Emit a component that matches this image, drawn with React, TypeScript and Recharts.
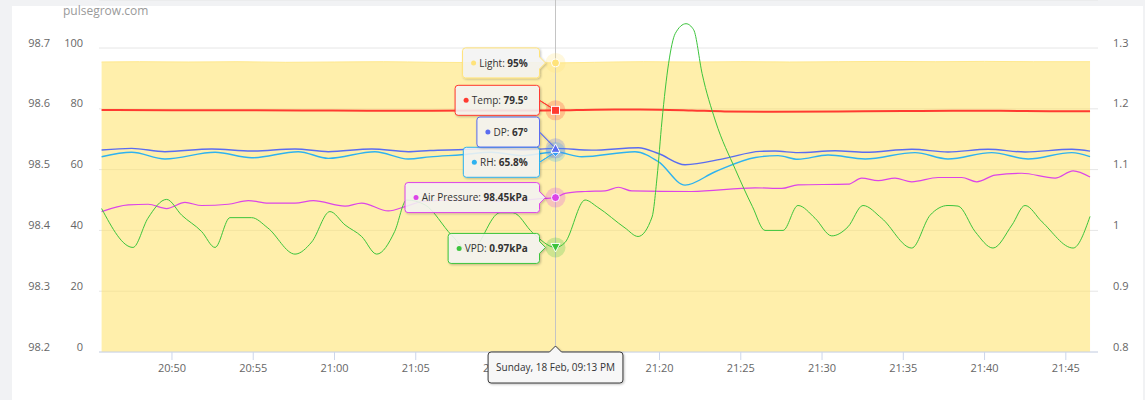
import React from 'react';
import {
  ComposedChart,
  Line,
  Area,
  XAxis,
  YAxis,
  CartesianGrid,
  ReferenceLine,
  ReferenceDot,
} from 'recharts';

type Pt = [number, number]; // [minutes after 20:00, value]

// ---------- axis ticks ----------
const TIME_TICKS = [50, 55, 60, 65, 70, 75, 80, 85, 90, 95, 100, 105];
const PCT_TICKS = [0, 20, 40, 60, 80, 100];
const AP_TICKS = [98.2, 98.3, 98.4, 98.5, 98.6, 98.7];
const VPD_TICKS = [0.8, 0.9, 1, 1.1, 1.2, 1.3];
const HOVER_T = 73.6;
const DATE_PREFIX = 'Sunday, 18 Feb';
const CREDIT = 'pulsegrow.com';

// ---------- series values ----------
const LIGHT: Pt[] = [
  [45.67, 95.4], [48, 95.5], [51, 95.4], [54, 95.5], [57, 95.3], [60, 95.4], [63, 95.5],
  [66, 95.3], [69, 95.2], [71.5, 95.3], [73.6, 95.1], [76, 95.3], [79, 95.5], [82, 95.4],
  [85, 95.5], [88, 95.4], [91, 95.5], [94, 95.6], [97, 95.5], [100, 95.6], [103, 95.5],
  [106.49, 95.5],
];

const TEMP: Pt[] = [
  [45.67, 79.6], [50, 79.55], [55, 79.5], [58, 79.45], [62, 79.4], [66, 79.4], [70, 79.45],
  [73.6, 79.5], [76, 79.7], [78, 79.75], [80, 79.7], [82, 79.45], [84, 79.15], [87, 79.05],
  [91, 79.15], [95, 79.25], [98, 79.35], [101, 79.35], [104, 79.2], [106.49, 79.2],
];

const DP: Pt[] = [
  [45.67, 66.45], [47.52, 67.0], [49.57, 65.9], [52.44, 66.8], [54.9, 66.1], [57.57, 66.8],
  [59.62, 65.9], [62.29, 66.8], [64.54, 65.9], [65.88, 66.3], [68, 66.6], [69.67, 67.0],
  [71.6, 66.5], [73.6, 67.0], [75.83, 66.4], [78.7, 67.2], [79.93, 65.3], [81.57, 61.6],
  [84.03, 63.7], [86.18, 66.0], [87.11, 66.1], [88.52, 65.6], [90.8, 66.2], [92.65, 65.7],
  [95.52, 66.7], [97.75, 65.8], [100.22, 66.7], [102.49, 65.8], [105.37, 66.7], [106.49, 66.1],
];

const RH: Pt[] = [
  [45.67, 64.25], [47.52, 65.7], [49.57, 63.5], [52.65, 65.7], [54.9, 63.9], [57.77, 65.9],
  [59.62, 63.7], [62.49, 65.9], [64.54, 63.5], [65.88, 64.2], [67.8, 64.9], [69.67, 65.7],
  [71.6, 64.6], [73.6, 65.8], [75.21, 64.25], [78.49, 65.9], [79.93, 62.6], [81.57, 54.9],
  [83.42, 59.3], [85.9, 64.0], [87.29, 64.6], [88.52, 63.4], [90.37, 64.8], [92.65, 63.5],
  [95.72, 65.6], [97.75, 63.5], [100.44, 65.6], [102.68, 63.5], [105.37, 65.6], [106.49, 64.25],
];

const AIR_PRESSURE: Pt[] = [
  [45.67, 98.431], [47.31, 98.442], [48.54, 98.443], [49.67, 98.436], [50.8, 98.446],
  [51.83, 98.441], [53.46, 98.443], [54.7, 98.449], [55.93, 98.445], [57.57, 98.445],
  [58.7, 98.449], [60.65, 98.44], [61.67, 98.445], [63.31, 98.432], [64.44, 98.44],
  [65.5, 98.448], [68, 98.45], [70.5, 98.448], [72.5, 98.452], [73.6, 98.454],
  [74.18, 98.461], [75.42, 98.464], [76.65, 98.465], [77.47, 98.471], [78.29, 98.465],
  [81.98, 98.464], [85.88, 98.47], [87.52, 98.469], [88.52, 98.475], [91.6, 98.476],
  [92.44, 98.486], [93.45, 98.482], [94.49, 98.486], [95.52, 98.48], [97.14, 98.487],
  [98.6, 98.487], [99.52, 98.48], [100.65, 98.491], [102.29, 98.494], [104.34, 98.486],
  [105.45, 98.498], [106.49, 98.488],
];

const VPD: Pt[] = [
  [45.67, 1.036], [47.6, 0.972], [48.52, 1.02], [49.67, 1.051], [50.6, 1.025], [51.83, 0.998],
  [52.65, 0.972], [53.57, 1.021], [54.9, 1.021], [55.9, 1.004], [57.57, 0.961], [58.6, 0.981],
  [59.72, 1.031], [60.65, 1.009], [61.67, 0.99], [62.6, 0.961], [63.7, 0.998], [64.44, 1.05],
  [65.57, 1.042], [67.21, 0.992], [68.34, 0.965], [70.18, 1.029], [70.98, 1.029], [72.2, 0.996],
  [73.6, 0.972], [74.18, 0.98], [75.42, 1.05], [76.2, 1.038], [77.88, 1.004], [78.68, 0.99],
  [79.54, 1.022], [79.85, 1.088], [80.15, 1.18], [80.56, 1.275], [80.97, 1.324], [81.63, 1.34],
  [82.1, 1.33], [82.62, 1.258], [83.44, 1.18], [84.67, 1.1], [85.72, 1.039], [86.49, 1.0],
  [87.6, 1.0], [88.52, 1.041], [89.57, 1.02], [90.6, 0.991], [91.6, 1.006], [92.52, 1.041],
  [93.67, 1.02], [95.52, 0.971], [96.65, 1.025], [97.75, 1.041], [98.37, 1.04], [99.42, 0.998],
  [100.52, 0.971], [101.69, 1.009], [102.49, 1.041], [103.54, 1.014], [105.45, 0.971],
  [106.49, 1.023],
];

// ---------- layout / style ----------
const X_DOMAIN: [number, number] = [45.51, 106.98];
const PCT_TOP = 115.8;
const FONT = '"Open Sans", sans-serif';
// axis ids (the library orders same-side axes by id: first = nearest the plot)
const AX_PCT = 'left1';
const AX_AP = 'left2';
const AX_VPD = 'right1';

type MarkerKind = 'circle' | 'square' | 'triangle' | 'triangle-down' | 'diamond';
interface SeriesCfg {
  name: string;
  data: Pt[];
  axis: string;
  color: string;
  fmt: (v: number) => string;
  marker: MarkerKind;
  tipDy: number;
}

const SERIES: Record<string, SeriesCfg> = {
  light: { name: 'Light', data: LIGHT, axis: AX_PCT, color: '#ffe37a', fmt: (v) => `${v.toFixed(0)}%`, marker: 'circle', tipDy: 0 },
  temp: { name: 'Temp', data: TEMP, axis: AX_PCT, color: '#ff3b30', fmt: (v) => `${v.toFixed(1)}°`, marker: 'square', tipDy: -10 },
  rh: { name: 'RH', data: RH, axis: AX_PCT, color: '#2eb2f0', fmt: (v) => `${v.toFixed(1)}%`, marker: 'diamond', tipDy: 10.3 },
  dp: { name: 'DP', data: DP, axis: AX_PCT, color: '#5a6cf0', fmt: (v) => `${v.toFixed(0)}°`, marker: 'triangle', tipDy: -16.3 },
  ap: { name: 'Air Pressure', data: AIR_PRESSURE, axis: AX_AP, color: '#dc44e8', fmt: (v) => `${v.toFixed(2)}kPa`, marker: 'circle', tipDy: 0 },
  vpd: { name: 'VPD', data: VPD, axis: AX_VPD, color: '#3cc43c', fmt: (v) => `${v.toFixed(2)}kPa`, marker: 'triangle-down', tipDy: 1 },
};

const toRows = (pts: Pt[]) => pts.map(([t, v]) => ({ t, v }));
const valueAt = (pts: Pt[], t: number) => {
  const p = pts.find((q) => Math.abs(q[0] - t) < 1e-6);
  return p ? p[1] : pts[0][1];
};

const pad2 = (n: number) => (n < 10 ? `0${n}` : `${n}`);
const fmtTime = (t: number) => `${20 + Math.floor(t / 60)}:${pad2(Math.round(t % 60))}`;
const fmt12 = (t: number) => {
  const h24 = 20 + Math.floor(t / 60);
  const m = Math.floor(t % 60);
  const h12 = h24 % 12 === 0 ? 12 : h24 % 12;
  return `${pad2(h12)}:${pad2(m)} ${h24 >= 12 ? 'PM' : 'AM'}`;
};

let ctx: CanvasRenderingContext2D | null = null;
function textW(s: string, bold = false, size = 10): number {
  if (typeof document !== 'undefined') {
    if (!ctx) ctx = document.createElement('canvas').getContext('2d');
    if (ctx) {
      ctx.font = `${bold ? 'bold ' : ''}${size}px "Open Sans"`;
      return ctx.measureText(s).width;
    }
  }
  return s.length * size * 0.55;
}

function rightCallout(x: number, y: number, w: number, h: number, r: number, ax: number, ay: number) {
  const safe = r + 6;
  let d = `M${x + r},${y} L${x + w - r},${y} Q${x + w},${y} ${x + w},${y + r} `;
  if (ay > y + safe && ay < y + h - safe) {
    d += `L${x + w},${ay - 6} L${x + w + 6},${ay} L${x + w},${ay + 6} `;
  } else {
    d += `L${x + w},${y + h / 2} L${ax},${ay} L${x + w},${y + h / 2} `;
  }
  d += `L${x + w},${y + h - r} Q${x + w},${y + h} ${x + w - r},${y + h} L${x + r},${y + h} Q${x},${y + h} ${x},${y + h - r} L${x},${y + r} Q${x},${y} ${x + r},${y} Z`;
  return d;
}

function topCallout(x: number, y: number, w: number, h: number, r: number, ax: number) {
  return `M${x + r},${y} L${ax - 6},${y} L${ax},${y - 6} L${ax + 6},${y} L${x + w - r},${y} Q${x + w},${y} ${x + w},${y + r} L${x + w},${y + h - r} Q${x + w},${y + h} ${x + w - r},${y + h} L${x + r},${y + h} Q${x},${y + h} ${x},${y + h - r} L${x},${y + r} Q${x},${y} ${x + r},${y} Z`;
}

function Marker({ kind, cx, cy, color }: { kind: MarkerKind; cx: number; cy: number; color: string }) {
  const common = { fill: color, stroke: '#ffffff', strokeWidth: 1 };
  switch (kind) {
    case 'square':
      return <rect x={cx - 4} y={cy - 4} width={8} height={8} {...common} />;
    case 'triangle':
      return <path d={`M${cx},${cy - 4.5} L${cx + 4.5},${cy + 4} L${cx - 4.5},${cy + 4} Z`} {...common} />;
    case 'triangle-down':
      return <path d={`M${cx - 4.5},${cy - 4} L${cx + 4.5},${cy - 4} L${cx},${cy + 4.5} Z`} {...common} />;
    case 'diamond':
      return <path d={`M${cx},${cy - 4.5} L${cx + 4.5},${cy} L${cx},${cy + 4.5} L${cx - 4.5},${cy} Z`} {...common} />;
    default:
      return <circle cx={cx} cy={cy} r={4} {...common} />;
  }
}

function HoverTip({ cx, cy, s }: { cx: number; cy: number; s: SeriesCfg }) {
  if (cx == null || cy == null) return null;
  const v = valueAt(s.data, HOVER_T);
  const label = `${s.name}: `;
  const val = s.fmt(v);
  const lw = textW(label);
  const vw = textW(val, true);
  const h = 30;
  const w = 16.7 + lw + vw + 11.7;
  const x = cx - 16 - w;
  const y = cy + s.tipDy - h / 2;
  const base = y + h / 2 + 3.7;
  return (
    <g>
      <circle cx={cx} cy={cy} r={10} fill={s.color} fillOpacity={0.25} />
      <path d={rightCallout(x, y, w, h, 3, cx, cy)} fill="rgba(247,247,247,0.85)" stroke={s.color} strokeWidth={1} filter="url(#tipShadow)" />
      <circle cx={x + 11} cy={y + h / 2} r={2.5} fill={s.color} />
      <text x={x + 16.7} y={base} fontFamily={FONT} fontSize={10} fill="#333333">{label}</text>
      <text x={x + 16.7 + lw} y={base} fontFamily={FONT} fontSize={10} fontWeight="bold" fill="#333333">{val}</text>
      <Marker kind={s.marker} cx={cx} cy={cy} color={s.color} />
    </g>
  );
}

function DateBadge({ cx, cy }: { cx: number; cy: number }) {
  if (cx == null || cy == null) return null;
  const text = `${DATE_PREFIX}, ${fmt12(HOVER_T)}`;
  const tw = textW(text);
  const w = tw + 16;
  const h = 31;
  const x = cx - w / 2;
  const y = cy;
  return (
    <g>
      <path d={topCallout(x, y, w, h, 3, cx)} fill="rgb(247,247,247)" stroke="#3a3a3a" strokeWidth={1} filter="url(#tipShadow)" />
      <text x={x + 8} y={y + 18.6} fontFamily={FONT} fontSize={10} fill="#333333">{text}</text>
    </g>
  );
}

const tickText = { fontFamily: FONT, fontSize: 11, fill: '#666666' };
const fmtAxisNum = (v: number) => String(Math.round(v * 10) / 10);

export default function App() {
  const order: SeriesCfg[] = [SERIES.light, SERIES.temp, SERIES.rh, SERIES.dp, SERIES.ap, SERIES.vpd];
  const zTop: any = { zIndex: 2500 };
  return (
    <div style={{ position: 'absolute', left: 0, top: 0, width: 1145, height: 400, background: '#f1f2f4', overflow: 'hidden' }}>
      <div style={{ position: 'absolute', left: 12, top: 6, width: 1131, height: 394, background: '#ffffff' }} />
      <div
        style={{
          position: 'absolute', left: 63, top: 3, fontFamily: FONT, fontSize: 12, lineHeight: '16px', color: '#9a9a9a',
        }}
      >
        {CREDIT}
      </div>
      <div style={{ position: 'absolute', left: 0, top: 0 }}>
        <ComposedChart width={1145} height={400} margin={{ top: 0, right: 0, bottom: 0, left: 0 }}>
          <defs>
            <filter id="tipShadow" x="-20%" y="-30%" width="140%" height="170%">
              <feDropShadow dx="1" dy="1" stdDeviation="1" floodColor="#000000" floodOpacity="0.25" />
            </filter>
          </defs>
          <CartesianGrid yAxisId={AX_PCT} vertical={false} stroke="#e6e6e6" />
          <XAxis
            type="number"
            dataKey="t"
            domain={X_DOMAIN}
            ticks={TIME_TICKS}
            interval={0}
            allowDataOverflow
            height={48}
            tickSize={8}
            tickMargin={0}
            axisLine={{ stroke: '#ccd6eb' }}
            tickLine={{ stroke: '#ccd6eb' }}
            tick={(p: any) => (
              <text x={p.x} y={p.y + 12} textAnchor="middle" {...tickText}>{fmtTime(p.payload.value)}</text>
            )}
          />
          <YAxis
            yAxisId={AX_PCT}
            orientation="left"
            width={44}
            domain={[0, PCT_TOP]}
            ticks={PCT_TICKS}
            interval={0}
            axisLine={false}
            tickLine={false}
            tickSize={0}
            tickMargin={16}
            tick={(p: any) => (
              <text x={p.x} y={p.y - 1.5} textAnchor="end" {...tickText}>{fmtAxisNum(p.payload.value)}</text>
            )}
          />
          <YAxis
            yAxisId={AX_AP}
            orientation="left"
            width={55}
            domain={[98.2, 98.2 + 0.005 * PCT_TOP]}
            ticks={AP_TICKS}
            interval={0}
            axisLine={false}
            tickLine={false}
            tickSize={0}
            tickMargin={5}
            tick={(p: any) => (
              <text x={p.x} y={p.y - 1.5} textAnchor="end" {...tickText}>{p.payload.value.toFixed(1)}</text>
            )}
          />
          <YAxis
            yAxisId={AX_VPD}
            orientation="right"
            width={47}
            domain={[0.8, 0.8 + 0.005 * PCT_TOP]}
            ticks={VPD_TICKS}
            interval={0}
            axisLine={false}
            tickLine={false}
            tickSize={0}
            tickMargin={15}
            tick={(p: any) => (
              <text x={p.x} y={p.y - 1.5} textAnchor="start" {...tickText}>{fmtAxisNum(p.payload.value)}</text>
            )}
          />
          <Area
            yAxisId={AX_PCT}
            data={toRows(LIGHT)}
            dataKey="v"
            type="monotone"
            stroke="#ffe98f"
            strokeWidth={1}
            fill="#ffe266"
            fillOpacity={0.55}
            dot={false}
            activeDot={false}
            isAnimationActive={false}
          />
          <Line yAxisId={AX_PCT} data={toRows(TEMP)} dataKey="v" type="monotone" stroke={SERIES.temp.color} strokeWidth={2} dot={false} activeDot={false} isAnimationActive={false} />
          <Line yAxisId={AX_PCT} data={toRows(DP)} dataKey="v" type="monotone" stroke={SERIES.dp.color} strokeWidth={1.4} dot={false} activeDot={false} isAnimationActive={false} />
          <Line yAxisId={AX_PCT} data={toRows(RH)} dataKey="v" type="monotone" stroke={SERIES.rh.color} strokeWidth={1.4} dot={false} activeDot={false} isAnimationActive={false} />
          <Line yAxisId={AX_AP} data={toRows(AIR_PRESSURE)} dataKey="v" type="monotone" stroke={SERIES.ap.color} strokeWidth={1.2} dot={false} activeDot={false} isAnimationActive={false} />
          <Line yAxisId={AX_VPD} data={toRows(VPD)} dataKey="v" type="monotone" stroke={SERIES.vpd.color} strokeWidth={1} dot={false} activeDot={false} isAnimationActive={false} />
          <ReferenceLine x={HOVER_T} yAxisId={AX_PCT} stroke="#c4c4c4" strokeWidth={1} />
          {order.map((s) => (
            <ReferenceDot
              key={s.name}
              x={HOVER_T}
              y={valueAt(s.data, HOVER_T)}
              yAxisId={s.axis}
              r={4}
              {...zTop}
              shape={(p: any) => <HoverTip cx={p.cx} cy={p.cy} s={s} />}
            />
          ))}
          <ReferenceDot
            x={HOVER_T}
            y={0}
            yAxisId={AX_PCT}
            r={0}
            {...zTop}
            shape={(p: any) => <DateBadge cx={p.cx} cy={p.cy} />}
          />
        </ComposedChart>
      </div>
    </div>
  );
}
